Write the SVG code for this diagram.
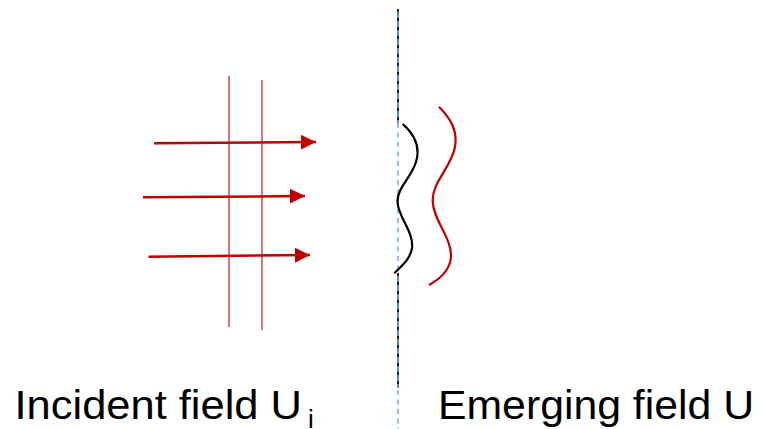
<svg xmlns="http://www.w3.org/2000/svg" width="763" height="429" viewBox="0 0 763 429">
<style>
.arrow{stroke:#C00000;stroke-width:2.5;fill:none}
.plane{stroke:#C00000;stroke-width:1.3;fill:none;opacity:0.85}
.mask{stroke:#5B8CC0;stroke-width:2}
.maskdash{stroke:#222;stroke-width:2;stroke-dasharray:3 6}
.light{stroke:#7FB2E5;stroke-width:1.6;stroke-dasharray:5 4.5}
.lbl{font-family:"Liberation Sans",Arial,sans-serif;font-size:41px;fill:#000}
</style>
<defs>
<marker id="ah" markerWidth="16" markerHeight="16" refX="15" refY="7.5" orient="auto" markerUnits="userSpaceOnUse">
<path d="M0,0 L15,7.5 L0,15 Z" fill="#C00000"/>
</marker>
</defs>
<g id="wavefronts">
<line class="plane" x1="229" y1="76" x2="229" y2="327"/>
<line class="plane" x1="262" y1="80" x2="262" y2="330"/>
</g>
<g id="connectors">
<line class="arrow" x1="154" y1="143.3" x2="316" y2="142" marker-end="url(#ah)"/>
<line class="arrow" x1="143" y1="197.3" x2="305" y2="196" marker-end="url(#ah)"/>
<line class="arrow" x1="148.5" y1="256.7" x2="310" y2="255" marker-end="url(#ah)"/>
</g>
<g id="screen">
<line class="mask" x1="398" y1="9" x2="398" y2="123"/>
<line class="maskdash" x1="398" y1="9" x2="398" y2="123"/>
<line class="light" x1="398" y1="123" x2="398" y2="273"/>
<line class="mask" x1="398" y1="273" x2="398" y2="388"/>
<line class="maskdash" x1="398" y1="273" x2="398" y2="388"/>
<line class="light" x1="398" y1="390" x2="398" y2="429"/>
</g>
<g id="emerging-black">
<path d="M402.7,124 C414,134 421,146 416,162 C411,178 397,188 397.5,202 C398,217 414,232 412,248 C410,260 401,266 394.3,273.3" stroke="#000" stroke-width="2.2" fill="none"/>
</g>
<g id="emerging-red">
<path d="M439,106.7 C450,118 458,130 455,147 C451,168 432,182 432.7,201 C433,220 452,238 451,257 C450,270 440,279 429,285" stroke="#C00000" stroke-width="2.2" fill="none"/>
</g>
<g id="label-incident">
<text class="lbl" x="14.5" y="419" textLength="287.5" lengthAdjust="spacingAndGlyphs">Incident field U</text>
<text class="lbl" x="308" y="428" style="font-size:26px">i</text>
</g>
<g id="label-emerging">
<text class="lbl" x="438" y="419" textLength="316" lengthAdjust="spacingAndGlyphs">Emerging field U</text>
</g>
</svg>
